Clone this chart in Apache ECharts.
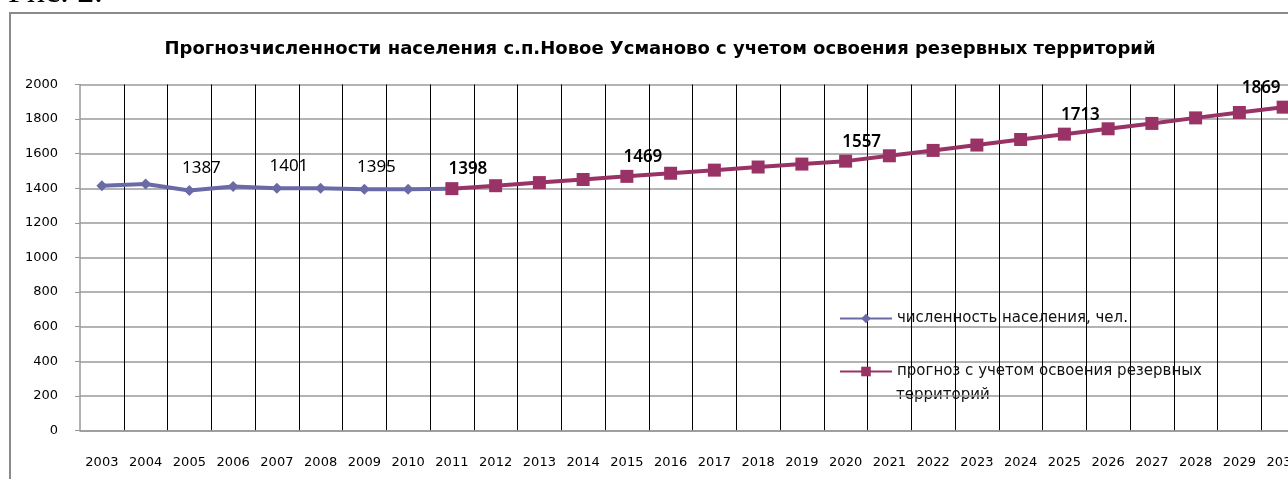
<!DOCTYPE html>
<html>
<head>
<meta charset="utf-8">
<script src="https://cdn.jsdelivr.net/npm/echarts@6/dist/echarts.min.js"></script>
<style>
  html, body { margin: 0; padding: 0; background: #fff; }
  #chart { width: 1288px; height: 479px; }
</style>
</head>
<body>
<div id="chart"></div>
<script>
// годы
var years = ['2003','2004','2005','2006','2007','2008','2009','2010','2011','2012',
  '2013','2014','2015','2016','2017','2018','2019','2020','2021','2022',
  '2023','2024','2025','2026','2027','2028','2029','2030'];

// численность населения, чел. (2003-2011)
var actual = [1415, 1425, 1387, 1410, 1401, 1400, 1395, 1395, 1398];
// прогноз (2011-2030)
var forecast = [1398, 1415, 1433, 1451, 1469, 1487, 1505, 1523, 1540, 1557,
  1588, 1619, 1650, 1682, 1713, 1744, 1775, 1807, 1838, 1869];

var actualLabels = ['2005', '2007', '2009'];
var forecastLabels = ['2011', '2015', '2020', '2025', '2030'];

var actualName = 'численность населения, чел.';
var forecastName = 'прогноз с учетом освоения резервных территорий';

var chart = echarts.init(document.getElementById('chart'));

var actualData = years.map(function (y, i) {
  var v = i < actual.length ? actual[i] : null;
  return {
    value: v,
    label: { show: actualLabels.indexOf(y) >= 0 && i < 8 }
  };
});

var offset0 = years.length - forecast.length;
var forecastData = years.map(function (y, i) {
  var v = i >= offset0 ? forecast[i - offset0] : null;
  var item = { value: v, label: { show: forecastLabels.indexOf(y) >= 0 } };
  if (y === '2030') item.label.offset = [-22, 0];
  return item;
});

var option = {
  animation: false,
  title: {
    text: 'Прогнозчисленности населения с.п.Новое Усманово с учетом освоения резервных территорий',
    left: 655,
    top: 35,
    textAlign: 'center',
    textStyle: { fontFamily: 'DejaVu Sans', fontSize: 18, fontWeight: 'bold', color: '#000' }
  },
  graphic: [
    {
      type: 'rect',
      shape: { x: 10, y: 13, width: 1320, height: 520 },
      style: { fill: 'none', stroke: '#8a8a8a', lineWidth: 2 },
      z: 0
    },
    {
      type: 'text',
      left: 8,
      top: -24,
      style: { text: 'Рис. 2.', font: '34px "Liberation Serif"', fill: '#000' }
    },
    {
      // вторая строка подписи легенды
      type: 'text',
      left: 896,
      top: 388,
      style: { text: 'территорий', font: '15px "DejaVu Sans"', fill: '#111' }
    }
  ],
  legend: [
    {
      data: [actualName],
      left: 834,
      top: 306,
      itemWidth: 52,
      itemHeight: 12,
      textStyle: { fontFamily: 'DejaVu Sans', fontSize: 15, color: '#111' }
    },
    {
      data: [forecastName],
      left: 834,
      top: 359,
      itemWidth: 52,
      itemHeight: 12,
      formatter: function (n) { return n.replace(' территорий', ''); },
      textStyle: { fontFamily: 'DejaVu Sans', fontSize: 15, color: '#111' }
    }
  ],
  grid: { left: 80, top: 84.5, right: -17, bottom: 48.5, outerBoundsMode: 'none' },
  xAxis: {
    type: 'category',
    data: years,
    boundaryGap: true,
    axisLine: { lineStyle: { color: '#999', width: 1.5 } },
    axisTick: { length: 5, lineStyle: { color: '#999' } },
    axisLabel: { interval: 0, margin: 26, fontFamily: 'DejaVu Sans', fontSize: 13, color: '#000' },
    splitLine: {
      show: true,
      interval: function (index) { return index > 0; },
      lineStyle: { color: '#000', width: 1 }
    }
  },
  yAxis: {
    type: 'value',
    min: 0,
    max: 2000,
    interval: 200,
    axisLine: { show: true, lineStyle: { color: '#999', width: 1.5 } },
    axisTick: { show: true, length: 5, lineStyle: { color: '#999' } },
    axisLabel: {
      margin: 22, fontFamily: 'DejaVu Sans', fontSize: 13, color: '#000',
      formatter: function (v) { return String(v); }
    },
    splitLine: { lineStyle: { color: '#9a9a9a', width: 1.5 } }
  },
  series: [
    {
      name: actualName,
      type: 'line',
      data: actualData,
      symbol: 'diamond',
      symbolSize: 11,
      color: '#6a6aa6',
      lineStyle: { width: 4, color: '#6a6aa6' },
      label: {
        position: 'top',
        distance: 8,
        offset: [12, 0],
        fontFamily: 'Noto Sans',
        fontSize: 17,
        color: '#000'
      },
      z: 2
    },
    {
      name: forecastName,
      type: 'line',
      data: forecastData,
      symbol: 'rect',
      symbolSize: 13,
      color: '#993366',
      lineStyle: { width: 4, color: '#993366' },
      label: {
        position: 'top',
        distance: 4,
        offset: [16, 0],
        fontFamily: 'Noto Sans',
        fontSize: 17,
        fontWeight: 600,
        color: '#000'
      },
      z: 3
    }
  ]
};

chart.setOption(option);
</script>
</body>
</html>
